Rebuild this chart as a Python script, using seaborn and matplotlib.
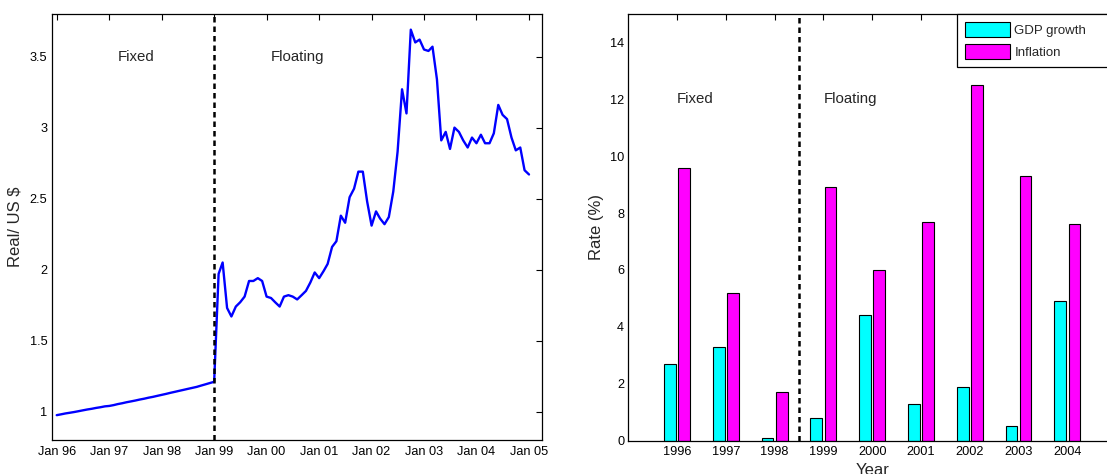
import pandas as pd
import matplotlib
matplotlib.use("Agg")
import matplotlib.pyplot as plt
import matplotlib.dates as mdates
from matplotlib.patches import Patch
import seaborn as sns

# Real / US$ exchange rate, monthly, Jan 1996 - Jan 1999 (fixed regime)
fixed_rate = [
    0.975, 0.981, 0.987, 0.992, 0.997, 1.003, 1.009, 1.015, 1.020, 1.026, 1.031, 1.037,
    1.040, 1.046, 1.053, 1.059, 1.066, 1.072, 1.078, 1.085, 1.091, 1.098, 1.104, 1.111,
    1.118, 1.125, 1.132, 1.139, 1.146, 1.153, 1.160, 1.167, 1.174, 1.183, 1.192, 1.201,
    1.210,
]
# Feb 1999 - Jan 2005 (floating regime)
floating_rate = [
    1.97, 2.05, 1.73, 1.67, 1.74, 1.77, 1.81, 1.92, 1.92, 1.94, 1.92,
    1.81, 1.80, 1.77, 1.74, 1.81, 1.82, 1.81, 1.79, 1.82, 1.85, 1.91, 1.98,
    1.94, 1.99, 2.04, 2.16, 2.20, 2.38, 2.33, 2.51, 2.57, 2.69, 2.69, 2.48,
    2.31, 2.41, 2.36, 2.32, 2.37, 2.55, 2.83, 3.27, 3.10, 3.69, 3.60, 3.62,
    3.55, 3.54, 3.57, 3.34, 2.91, 2.97, 2.85, 3.00, 2.97, 2.91, 2.86, 2.93,
    2.89, 2.95, 2.89, 2.89, 2.96, 3.16, 3.09, 3.06, 2.93, 2.84, 2.86, 2.70,
    2.67,
]
months = pd.date_range("1996-01-01", periods=len(fixed_rate) + len(floating_rate), freq="MS")

years = [1996, 1997, 1998, 1999, 2000, 2001, 2002, 2003, 2004]
gdp_growth = [2.7, 3.3, 0.1, 0.8, 4.4, 1.3, 1.9, 0.5, 4.9]
inflation = [9.6, 5.2, 1.7, 8.9, 6.0, 7.7, 12.5, 9.3, 7.6]
series_names = ["GDP growth", "Inflation"]
series_colors = {"GDP growth": "#00ffff", "Inflation": "#ff00ff"}

df_rate = pd.DataFrame({"month": months, "rate": fixed_rate + floating_rate})
df_bars = pd.DataFrame({
    "year": years * 2,
    "series": [series_names[0]] * len(years) + [series_names[1]] * len(years),
    "rate": gdp_growth + inflation,
})

sns.set_style("white")
plt.rcParams["font.family"] = ["Liberation Sans", "DejaVu Sans"]
plt.rcParams["axes.linewidth"] = 0.9

fig = plt.figure(figsize=(11.07, 4.74), dpi=100)
ax1 = fig.add_axes([0.0467, 0.0717, 0.4426, 0.8987])
ax2 = fig.add_axes([0.5676, 0.0705, 0.4406, 0.9000])

dash = (0, (2.2, 1.6))

# left: exchange rate
sns.lineplot(data=df_rate, x="month", y="rate", color="#0000ff", linewidth=1.7, ax=ax1)
ax1.axvline(pd.Timestamp("1999-01-01"), color="black", linestyle=dash, linewidth=1.8)
ax1.set_xlim(pd.Timestamp("1995-11-27"), pd.Timestamp("2005-03-30"))
ax1.set_ylim(0.8, 3.8)
ax1.set_yticks([1, 1.5, 2, 2.5, 3, 3.5])
ax1.set_yticklabels(["1", "1.5", "2", "2.5", "3", "3.5"])
ax1.xaxis.set_major_locator(mdates.YearLocator())
ax1.xaxis.set_major_formatter(mdates.DateFormatter("%b %y"))
ax1.set_xlabel("")
ax1.set_ylabel("Real/ US $", fontsize=12, labelpad=5)
ax1.text(pd.Timestamp("1997-03-01"), 3.5, "Fixed", fontsize=10.8, ha="left", va="center")
ax1.text(pd.Timestamp("2000-02-01"), 3.5, "Floating", fontsize=10.8, ha="left", va="center")

# right: GDP growth and inflation
sns.barplot(data=df_bars, x="year", y="rate", hue="series", native_scale=True,
            palette=series_colors, saturation=1, width=0.58, gap=0.17,
            edgecolor="black", linewidth=0.8, errorbar=None, legend=False, ax=ax2)
ax2.axvline(1998.5, color="black", linestyle=dash, linewidth=1.8)
ax2.set_xlim(1995, 2005)
ax2.set_ylim(0, 15)
ax2.set_xticks(years)
ax2.set_xticklabels([str(y) for y in years])
ax2.set_yticks(range(0, 15, 2))
ax2.set_xlabel("Year", fontsize=12, labelpad=3.5)
ax2.set_ylabel("Rate (%)", fontsize=12, labelpad=4)
ax2.text(1996, 12, "Fixed", fontsize=10.8, ha="left", va="center")
ax2.text(1999, 12, "Floating", fontsize=10.8, ha="left", va="center")

handles = [Patch(facecolor=series_colors[n], edgecolor="black", linewidth=0.8) for n in series_names]
leg = ax2.legend(handles, series_names, loc="upper left", bbox_to_anchor=(0.6746, 0, 0.3254, 1.0),
                 mode="expand", borderaxespad=0, fontsize=9.5, handlelength=3.4,
                 handleheight=1.42, labelspacing=0.5, handletextpad=0.33, borderpad=0.6,
                 fancybox=False, framealpha=1, edgecolor="black")
leg.get_frame().set_linewidth(0.9)

for ax in (ax1, ax2):
    ax.tick_params(direction="in", top=True, right=True, length=4, width=0.8,
                   labelsize=9.2, colors="black")
    ax.tick_params(axis="x", pad=4)
    ax.tick_params(axis="y", pad=3)
    for s in ax.spines.values():
        s.set_visible(True)
        s.set_color("black")

fig.savefig("out.png", dpi=100)
